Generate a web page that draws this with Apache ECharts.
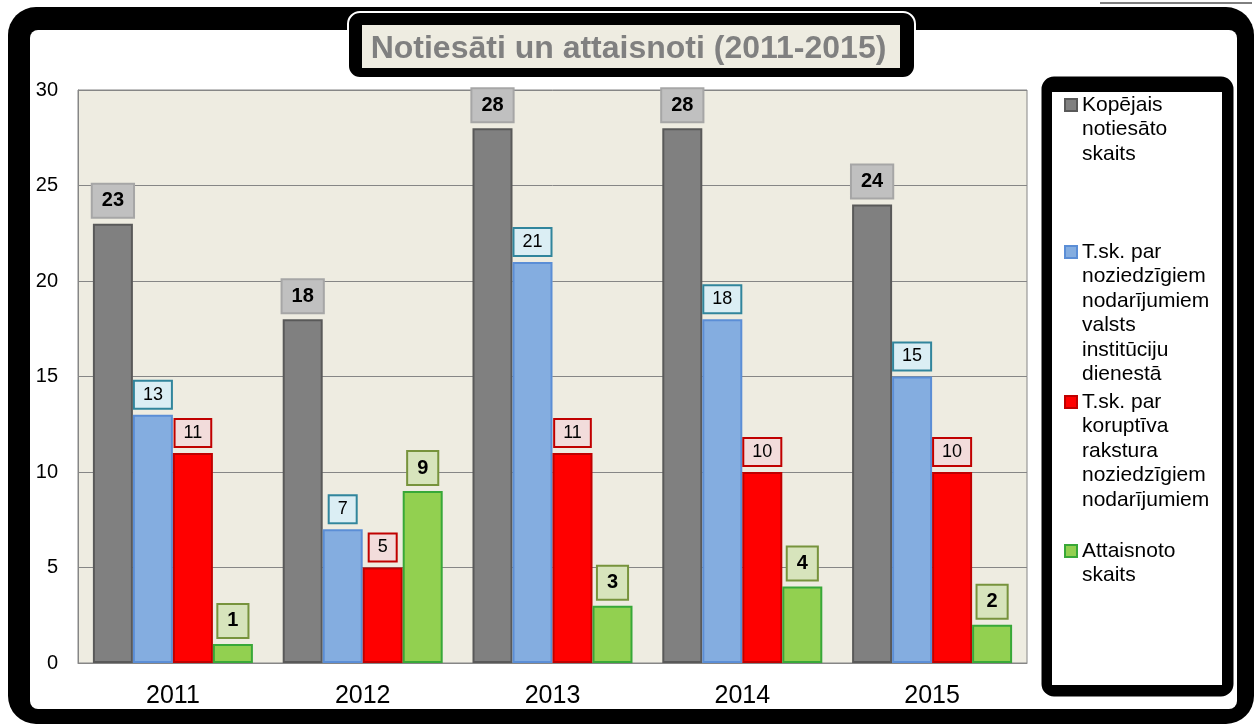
<!DOCTYPE html>
<html>
<head>
<meta charset="utf-8">
<script src="https://cdn.jsdelivr.net/npm/echarts@6/dist/echarts.min.js"></script>
<style>
    html, body { margin: 0; padding: 0; background: #fff; }
    #chart { width: 1257px; height: 726px; }
</style>
</head>
<body>
<div id="chart"></div>
<script>
    var years = ['2011', '2012', '2013', '2014', '2015'];
    var seriesNames = [
        'Kopējais notiesāto skaits',
        'T.sk. par noziedzīgiem nodarījumiem valsts institūciju dienestā',
        'T.sk. par koruptīva rakstura noziedzīgiem nodarījumiem',
        'Attaisnoto skaits'
    ];
    // legend text split into lines as in the original
    var legendLines = [
        ['Kopējais', 'notiesāto', 'skaits'],
        ['T.sk. par', 'noziedzīgiem', 'nodarījumiem', 'valsts', 'institūciju', 'dienestā'],
        ['T.sk. par', 'koruptīva', 'rakstura', 'noziedzīgiem', 'nodarījumiem'],
        ['Attaisnoto', 'skaits']
    ];
    var totalConvicted = [23, 18, 28, 28, 24];
    var stateService = [13, 7, 21, 18, 15];
    var corruption = [11, 5, 11, 10, 10];
    var acquitted = [1, 9, 3, 4, 2];
    var yTicks = [0, 5, 10, 15, 20, 25, 30];

    var FONT = '"Liberation Sans", Arial, sans-serif';
    var LH = 24.5;
    // y centre of the first line of every legend entry
    var legendFirstLine = [105, 252, 402, 551];

    function barSeries(name, data, fill, stroke, lbl) {
        return {
            name: name,
            type: 'bar',
            barWidth: 40,
            barGap: '0%',
            data: data,
            itemStyle: { color: fill, borderColor: stroke, borderWidth: 2 },
            label: {
                show: true,
                position: 'top',
                distance: 7,
                color: '#000',
                fontFamily: FONT,
                fontSize: lbl.bold ? 20 : 18,
                fontWeight: lbl.bold ? 'bold' : 'normal',
                backgroundColor: lbl.bg,
                borderColor: lbl.border,
                borderWidth: 2,
                padding: lbl.bold ? [6, 9] : [4, 8]
            }
        };
    }

    function makeLegends() {
        return seriesNames.map(function (name, i) {
            var n = legendLines[i].length;
            var h = (2 * n - 1) * LH;
            return {
                data: [{ name: name, icon: 'rect' }],
                orient: 'vertical',
                left: 1064,
                top: legendFirstLine[i] - h / 2,
                padding: 0,
                itemWidth: 12,
                itemHeight: 12,
                itemGap: 0,
                selectedMode: false,
                formatter: function () {
                    // pad with blank lines above so the icon sits on the first line
                    var pad = [];
                    for (var k = 1; k < n; k++) pad.push('');
                    return pad.concat(legendLines[i]).join('\n');
                },
                textStyle: { fontFamily: FONT, fontSize: 21, lineHeight: LH, color: '#000' }
            };
        });
    }

    var chart = echarts.init(document.getElementById('chart'));

    chart.setOption({
        animation: false,
        backgroundColor: '#fff',
        title: {
            text: 'Notiesāti un attaisnoti (2011-2015)',
            left: 'center',
            top: 33,
            padding: 0,
            textStyle: { fontFamily: FONT, fontSize: 32, fontWeight: 'bold', color: '#808080' }
        },
        graphic: [
            // outer frame
            { type: 'rect', z: -10, shape: { x: 8, y: 7, width: 1246, height: 717, r: 28 }, style: { fill: '#000' } },
            { type: 'rect', z: -10, shape: { x: 30, y: 30, width: 1207, height: 679, r: 8 }, style: { fill: '#fff' } },
            { type: 'line', z: -10, shape: { x1: 1100, y1: 3, x2: 1252, y2: 3 }, style: { stroke: '#000', lineWidth: 1 } },
            // title box
            { type: 'rect', z: -9, shape: { x: 348, y: 12, width: 567, height: 66, r: 12 }, style: { fill: '#000', stroke: '#fff', lineWidth: 2 } },
            { type: 'rect', z: -9, shape: { x: 362, y: 25, width: 538, height: 43 }, style: { fill: '#eeece1' } },
            // legend box
            { type: 'rect', z: -9, shape: { x: 1040, y: 75, width: 195, height: 623, r: 14 }, style: { fill: '#000', stroke: '#fff', lineWidth: 3 } },
            { type: 'rect', z: -9, shape: { x: 1052, y: 92, width: 170, height: 593 }, style: { fill: '#fff' } }
        ],
        legend: makeLegends(),
        grid: {
            left: 78,
            top: 90,
            right: 230,
            bottom: 63,
            show: true,
            backgroundColor: '#eeece1',
            borderColor: '#868686',
            borderWidth: 1
        },
        xAxis: {
            type: 'category',
            data: years,
            axisTick: { show: false },
            axisLine: { lineStyle: { color: '#868686', width: 1 } },
            axisLabel: { color: '#000', fontFamily: FONT, fontSize: 25, margin: 21 }
        },
        yAxis: {
            type: 'value',
            min: yTicks[0],
            max: yTicks[yTicks.length - 1],
            interval: 5,
            axisTick: { show: false },
            axisLine: { show: true, lineStyle: { color: '#868686', width: 1 } },
            splitLine: { lineStyle: { color: '#868686', width: 1 } },
            axisLabel: { color: '#000', fontFamily: FONT, fontSize: 20, margin: 20 }
        },
        series: [
            barSeries(seriesNames[0], totalConvicted, '#808080', '#595959',
                { bold: true, bg: '#c0c0c0', border: '#a6a6a6' }),
            barSeries(seriesNames[1], stateService, '#84ade0', '#5b8ed6',
                { bold: false, bg: '#dbeef4', border: '#31859c' }),
            barSeries(seriesNames[2], corruption, '#ff0000', '#c00000',
                { bold: false, bg: '#f2dcdb', border: '#c00000' }),
            barSeries(seriesNames[3], acquitted, '#92d050', '#38a838',
                { bold: true, bg: '#d7e4bc', border: '#77933c' })
        ]
    });
</script>
</body>
</html>
